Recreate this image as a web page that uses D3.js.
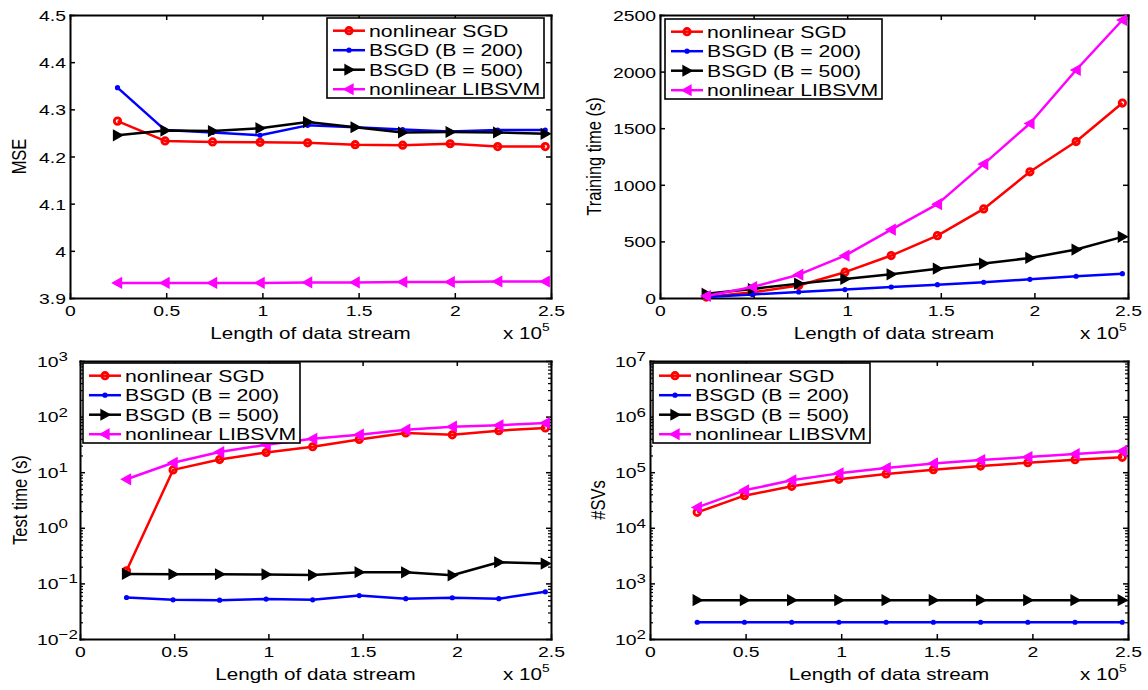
<!DOCTYPE html>
<html>
<head>
<meta charset="utf-8">
<script src="https://cdn.jsdelivr.net/npm/d3@7"></script>
<style>
  body { margin: 0; background: #fff; }
  svg text { font-family: "Liberation Sans", Arial, Helvetica, sans-serif; fill: #000; }
</style>
</head>
<body>
<svg id="fig" width="1148" height="690"></svg>
<script>
// ---- data -------------------------------------------------------------
const streamLength = [24700, 49400, 74100, 98800, 123500, 148200, 172900, 197600, 222300, 247000];
const seriesNames = ["nonlinear SGD", "BSGD (B = 200)", "BSGD (B = 500)", "nonlinear LIBSVM"];

const mseSGD    = [4.275, 4.233, 4.231, 4.230, 4.229, 4.225, 4.224, 4.227, 4.221, 4.221];
const mseB200   = [4.346, 4.256, 4.251, 4.245, 4.266, 4.262, 4.257, 4.253, 4.256, 4.256];
const mseB500   = [4.245, 4.255, 4.254, 4.260, 4.273, 4.262, 4.251, 4.252, 4.251, 4.248];
const mseLIBSVM = [3.932, 3.932, 3.932, 3.932, 3.933, 3.933, 3.934, 3.934, 3.935, 3.935];

const trainSGD    = [8, 50, 110, 228, 375, 551, 787, 1115, 1382, 1722];
const trainB200   = [9, 32, 53, 74, 97, 118, 139, 165, 192, 215];
const trainB500   = [38, 80, 127, 168, 209, 259, 304, 354, 428, 540];
const trainLIBSVM = [18, 97, 206, 374, 604, 829, 1183, 1542, 2014, 2456];

const testSGD    = [0.169, 11.0, 16.9, 22.6, 28.7, 38.9, 50.7, 47.0, 55.9, 62.4];
const testB200   = [0.0558, 0.0507, 0.0500, 0.0523, 0.0507, 0.0604, 0.0531, 0.0552, 0.0531, 0.0708];
const testB500   = [0.148, 0.146, 0.146, 0.145, 0.141, 0.159, 0.158, 0.140, 0.240, 0.227];
const testLIBSVM = [7.46, 14.8, 23.0, 31.2, 40.0, 47.3, 58.2, 65.9, 69.7, 76.8];

const svSGD    = [18960, 37800, 55700, 74400, 92900, 111000, 129000, 148000, 168000, 185000];
const svB200   = [200, 200, 200, 200, 200, 200, 200, 200, 200, 200];
const svB500   = [500, 500, 500, 500, 500, 500, 500, 500, 500, 500];
const svLIBSVM = [23300, 47200, 71400, 95300, 119000, 144000, 165000, 187000, 212000, 240000];

const xTicks     = [0, 50000, 100000, 150000, 200000, 250000];
const mseTicks   = [3.9, 4.0, 4.1, 4.2, 4.3, 4.4, 4.5];
const trainTicks = [0, 500, 1000, 1500, 2000, 2500];
const testTicks  = [1e-2, 1e-1, 1e0, 1e1, 1e2, 1e3];
const svTicks    = [1e2, 1e3, 1e4, 1e5, 1e6, 1e7];

// ---- styling ------------------------------------------------------------
const SX = 1.25;              // horizontal stretch of the lettering
const FONT = '"Liberation Sans", Arial, Helvetica, sans-serif';
const seriesStyle = [
  { color: "#ff0000", marker: "circle" },
  { color: "#0000ff", marker: "dot" },
  { color: "#000000", marker: "right" },
  { color: "#ff00ff", marker: "left" }
];

const panels = [
  { box: [70, 15, 551, 298], scale: "linear", domain: [3.9, 4.5], ticks: mseTicks,
    ylabel: "MSE", ylabelX: 26, legend: [327, 18],
    series: [mseSGD, mseB200, mseB500, mseLIBSVM] },
  { box: [660, 15, 1128, 298], scale: "linear", domain: [0, 2500], ticks: trainTicks,
    ylabel: "Training time (s)", ylabelX: 601, legend: [665, 19],
    series: [trainSGD, trainB200, trainB500, trainLIBSVM] },
  { box: [80, 361, 551, 639], scale: "log", domain: [1e-2, 1e3], ticks: testTicks,
    ylabel: "Test time (s)", ylabelX: 27, legend: [83, 363], expStart: 43,
    series: [testSGD, testB200, testB500, testLIBSVM] },
  { box: [650, 361, 1128, 639], scale: "log", domain: [1e2, 1e7], ticks: svTicks,
    ylabel: "#SVs", ylabelX: 605, legend: [653, 363], expStart: 35,
    series: [svSGD, svB200, svB500, svLIBSVM] }
];

const svg = d3.select("#fig");

function stretchedText(g, x, y, str, size, anchor) {
  return g.append("text")
    .attr("transform", `translate(${x},${y}) scale(${SX},1)`)
    .attr("font-size", size)
    .attr("text-anchor", anchor || "start")
    .text(str);
}

function drawMarker(g, type, color, cx, cy) {
  if (type === "circle") {
    g.append("circle").attr("cx", cx).attr("cy", cy).attr("r", 3.2)
      .attr("fill", "none").attr("stroke", color).attr("stroke-width", 2.8);
  } else if (type === "dot") {
    g.append("circle").attr("cx", cx).attr("cy", cy).attr("r", 2.6).attr("fill", color);
  } else {
    const d = type === "right" ? "M-4,-5L5,0L-4,5Z" : "M4,-5L-5,0L4,5Z";
    g.append("path").attr("d", d).attr("transform", `translate(${cx},${cy})`)
      .attr("fill", color).attr("stroke", color).attr("stroke-width", 1.3)
      .attr("stroke-linejoin", "miter");
  }
}

function styleAxis(g) {
  g.attr("font-family", FONT);
  g.select(".domain").attr("stroke", "#000").attr("stroke-width", 2).attr("stroke-linecap", "square");
  g.selectAll(".tick line").attr("stroke", "#000").attr("stroke-width", 1.5);
}

panels.forEach(p => {
  const [L, T, R, B] = p.box;
  const g = svg.append("g");

  const x = d3.scaleLinear().domain([0, 250000]).range([L, R]);
  const y = (p.scale === "log" ? d3.scaleLog() : d3.scaleLinear()).domain(p.domain).range([B, T]);

  // minor ticks of the logarithmic axes
  if (p.scale === "log") {
    const minor = y.ticks().filter(v => !p.ticks.some(t => Math.abs(t - v) / t < 1e-9));
    g.append("g").attr("transform", `translate(${L},0)`)
      .call(d3.axisLeft(y).tickValues(minor).tickSizeInner(-3).tickSizeOuter(0).tickFormat(""))
      .call(a => { a.select(".domain").remove(); a.selectAll(".tick line").attr("stroke", "#000").attr("stroke-width", 1.2); });
    g.append("g").attr("transform", `translate(${R},0)`)
      .call(d3.axisRight(y).tickValues(minor).tickSizeInner(-3).tickSizeOuter(0).tickFormat(""))
      .call(a => { a.select(".domain").remove(); a.selectAll(".tick line").attr("stroke", "#000").attr("stroke-width", 1.2); });
  }

  // frame axes
  const gB = g.append("g").attr("transform", `translate(0,${B})`)
    .call(d3.axisBottom(x).tickValues(xTicks).tickSizeInner(-5).tickSizeOuter(0)
      .tickFormat(d => d3.format("~g")(d / 1e5)));
  styleAxis(gB);
  gB.selectAll(".tick text").attr("y", 0).attr("dy", null)
    .attr("transform", `translate(0,18) scale(${SX},1)`)
    .attr("font-size", 15.5).attr("fill", "#000");

  const gT = g.append("g").attr("transform", `translate(0,${T})`)
    .call(d3.axisTop(x).tickValues(xTicks).tickSizeInner(-5).tickSizeOuter(0).tickFormat(""));
  styleAxis(gT);

  const gL = g.append("g").attr("transform", `translate(${L},0)`)
    .call(d3.axisLeft(y).tickValues(p.ticks).tickSizeInner(-5).tickSizeOuter(0)
      .tickFormat(p.scale === "log" ? "" : d => String(+d.toFixed(1))));
  styleAxis(gL);
  if (p.scale === "linear") {
    gL.selectAll(".tick text").attr("x", 0).attr("dy", null)
      .attr("transform", `translate(-4,5.5) scale(${SX},1)`)
      .attr("font-size", 15.5).attr("fill", "#000");
  } else {
    gL.selectAll(".tick text").remove();
    p.ticks.forEach(v => {
      const e = Math.round(Math.log10(v));
      const t = stretchedText(g, L - p.expStart, y(v) + 5.5, "10", 15.5, "start");
      t.append("tspan").attr("dy", -5.5).attr("font-size", 13.5)
        .text(String(e).replace("-", "\u2212"));
    });
  }

  const gR = g.append("g").attr("transform", `translate(${R},0)`)
    .call(d3.axisRight(y).tickValues(p.ticks).tickSizeInner(-5).tickSizeOuter(0).tickFormat(""));
  styleAxis(gR);

  // axis titles
  stretchedText(g, (L + R) / 2, B + 41, "Length of data stream", 16.5, "middle");
  const mult = stretchedText(g, R - 48, B + 41, "x 10", 16.5, "start");
  mult.append("tspan").attr("dy", -8).attr("font-size", 11).text("5");
  g.append("text")
    .attr("transform", `translate(${p.ylabelX},${(T + B) / 2}) scale(${SX},1) rotate(-90)`)
    .attr("font-size", 16.5).attr("text-anchor", "middle").text(p.ylabel);

  // series
  const line = d3.line().x((d, i) => x(streamLength[i])).y(d => y(d));
  p.series.forEach((vals, si) => {
    const st = seriesStyle[si];
    const sg = g.append("g");
    sg.append("path").datum(vals).attr("d", line)
      .attr("fill", "none").attr("stroke", st.color).attr("stroke-width", 2.5)
      .attr("stroke-linejoin", "round");
    vals.forEach((v, i) => drawMarker(sg, st.marker, st.color, x(streamLength[i]), y(v)));
  });

  // legend
  const [lx, ly] = p.legend;
  const lg = g.append("g");
  lg.append("rect").attr("x", lx).attr("y", ly).attr("width", 217).attr("height", 80)
    .attr("fill", "#fff").attr("stroke", "#000").attr("stroke-width", 1.6);
  seriesNames.forEach((name, si) => {
    const st = seriesStyle[si];
    const cy = ly + 12.7 + si * 19.5;
    lg.append("line").attr("x1", lx + 6).attr("x2", lx + 38).attr("y1", cy).attr("y2", cy)
      .attr("stroke", st.color).attr("stroke-width", 2.5);
    drawMarker(lg, st.marker, st.color, lx + 22, cy);
    stretchedText(lg, lx + 42, cy + 6.2, name, 17, "start");
  });
});
</script>
</body>
</html>
